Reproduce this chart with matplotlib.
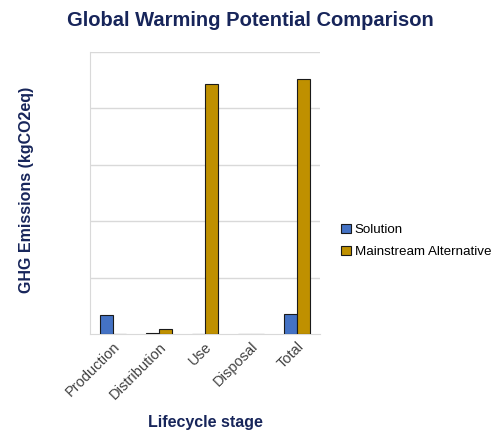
import matplotlib
matplotlib.use("Agg")
import matplotlib.pyplot as plt
import numpy as np

stages = ["Production", "Distribution", "Use", "Disposal", "Total"]
solution = [0.34, 0.01, 0.0, 0.0, 0.35]
mainstream = [0.0, 0.09, 4.43, 0.0, 4.52]
series_names = ["Solution", "Mainstream Alternative"]

NAVY = "#17255a"
BLUE = "#4472c4"
GOLD = "#bf9000"

plt.rcParams["font.family"] = ["Liberation Sans", "DejaVu Sans"]

fig = plt.figure(figsize=(5, 4.43), dpi=100)
ax = fig.add_axes([0.18, 0.246, 0.46, 0.637])

x = np.arange(len(stages))
w = 0.28
ax.bar(x - w / 2, solution, w, color=BLUE, edgecolor="#1a1a1a", linewidth=0.8,
       label=series_names[0], zorder=3)
ax.bar(x + w / 2, mainstream, w, color=GOLD, edgecolor="#1a1a1a", linewidth=0.8,
       label=series_names[1], zorder=3)

ax.set_xlim(-0.5, len(stages) - 0.5)
ax.set_ylim(0, 5)
ax.set_yticks([1, 2, 3, 4, 5])
ax.set_yticklabels([])
ax.tick_params(axis="y", length=0)
ax.tick_params(axis="x", length=0, pad=4)
ax.grid(axis="y", color="#d9d9d9", linewidth=1, zorder=0)
for side in ["top", "right"]:
    ax.spines[side].set_visible(False)
ax.spines["left"].set_color("#d9d9d9")
ax.spines["bottom"].set_color("#d9d9d9")

ax.set_xticks(x)
ax.set_xticklabels(stages, rotation=45, ha="right", rotation_mode="anchor",
                   fontsize=10.5, color="#404040")

fig.text(205 / 500, 1 - 422 / 443, "Lifecycle stage", fontsize=11.5, fontweight="bold",
         color=NAVY, ha="center", va="center")
fig.text(27 / 500, 1 - 190 / 443, "GHG Emissions (kgCO2eq)", fontsize=11.5,
         fontweight="bold", color=NAVY, ha="center", va="center", rotation=90)
fig.text(0.5, 1 - 20 / 443, "Global Warming Potential Comparison", fontsize=14.5,
         fontweight="bold", color=NAVY, ha="center", va="center")

ax.legend(loc="center left", bbox_to_anchor=(1.04, 0.33), frameon=False,
          handlelength=0.7, handleheight=0.7, handletextpad=0.3, labelspacing=0.7,
          prop={"size": 9.6})

fig.savefig("out.png", dpi=100)
